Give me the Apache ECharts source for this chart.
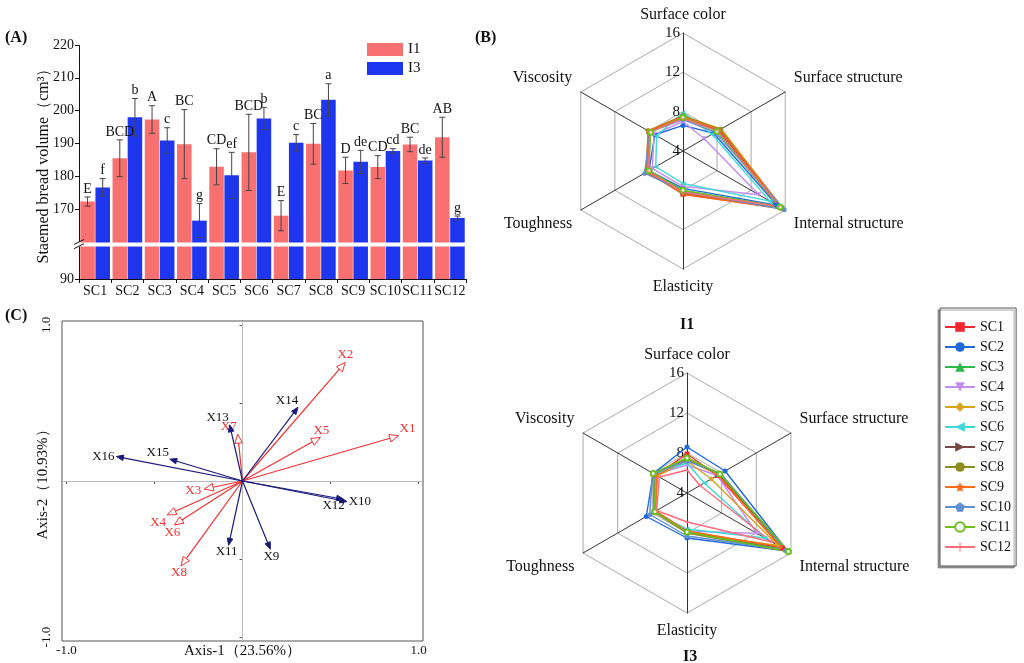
<!DOCTYPE html>
<html><head><meta charset="utf-8">
<script src="https://cdn.jsdelivr.net/npm/echarts@6/dist/echarts.min.js"></script>
<style>html,body{margin:0;padding:0;background:#fff}#c{width:1024px;height:663px}</style>
</head><body><div id="c"></div><script>
const FONT = '"Liberation Serif","Times New Roman",serif';

// ---- Panel A data ----
const categories = ['SC1','SC2','SC3','SC4','SC5','SC6','SC7','SC8','SC9','SC10','SC11','SC12'];
const volumeI1 = [172.3,185.5,197.3,189.8,182.9,187.3,168.0,189.9,181.8,182.8,189.7,191.9];
const errorI1  = [1.4,5.6,4.2,10.5,5.5,11.6,4.6,6.2,4.0,3.5,2.2,6.1];
const volumeI3 = [176.6,198.0,190.9,166.5,180.3,197.6,190.2,203.3,184.4,187.7,184.8,167.3];
const errorI3  = [2.7,5.7,3.9,5.2,7.0,3.4,2.5,4.9,3.5,0.7,0.8,0.6];
const lettersI1 = ['E','BCD','A','BC','CD','BCD','E','BC','D','CD','BC','AB'];
const lettersI3 = ['f','b','c','g','ef','b','c','a','de','cd','de','g'];
const yTickValues = [90,170,180,190,200,210,220];
const axisBreak = { start: 100, end: 160 };

// ---- Panel B data ----
const attributes = ['Surface color','Viscosity','Toughness','Elasticity','Internal structure','Surface structure'];
const samples = ['SC1','SC2','SC3','SC4','SC5','SC6','SC7','SC8','SC9','SC10','SC11','SC12'];
const scoresI1 = [
  [7.4,8.0,8.2,8.4,15.6,8.2],
  [6.6,7.3,8.0,7.8,15.0,7.6],
  [7.5,7.9,8.1,8.0,15.2,8.0],
  [7.0,7.4,7.6,7.6,12.9,6.5],
  [7.5,8.1,8.3,8.3,15.7,8.5],
  [7.9,7.1,7.2,7.3,14.2,7.4],
  [7.3,8.0,8.2,8.3,15.5,8.2],
  [7.6,8.1,8.3,8.2,15.6,8.4],
  [7.5,8.1,8.2,8.4,15.8,8.3],
  [7.2,7.9,8.5,8.1,15.9,7.8],
  [7.4,7.8,8.0,8.0,15.4,8.0],
  [7.3,7.9,8.1,8.2,15.3,8.1]
];
const scoresI3 = [
  [7.9,7.6,7.8,7.8,15.0,7.5],
  [8.6,7.9,8.7,8.5,15.6,8.4],
  [7.3,7.9,7.7,7.9,15.4,7.7],
  [6.8,7.7,7.6,7.8,12.1,7.5],
  [7.2,7.4,7.7,8.0,14.5,6.8],
  [7.0,7.8,7.8,7.6,13.0,6.0],
  [7.4,7.9,7.7,7.9,15.6,7.7],
  [7.5,7.9,7.8,8.0,15.7,7.8],
  [7.4,7.5,7.6,7.8,14.8,7.6],
  [7.2,8.0,8.3,8.3,15.4,7.9],
  [7.5,7.9,7.7,7.9,15.7,7.8],
  [6.3,7.2,7.5,6.9,13.8,5.5]
];

// ---- Panel C data ----
const vectorNames = ['X1','X2','X3','X4','X5','X6','X7','X8','X9','X10','X11','X12','X13','X14','X15','X16'];
const axis1 = [0.886,0.584,-0.217,-0.428,0.442,-0.387,-0.027,-0.349,0.158,0.593,-0.079,0.574,-0.073,0.315,-0.413,-0.716];
const axis2 = [0.290,0.760,-0.052,-0.217,0.279,-0.281,0.300,-0.544,-0.437,-0.132,-0.412,-0.117,0.360,0.472,0.140,0.157];
const vectorGroup = [0,0,0,0,0,0,0,0,1,1,1,1,1,1,1,1];

// ---- styles ----
const sampleColors = ['#F0282D','#1F6AD8','#2DB84B','#C58CF0','#D9A21B','#3FD6D6','#7A4646','#8E8E1E','#FF6A1A','#5E8ED4','#6CC01E','#FF6B7A'];
const STAR = 'path://M0,-10L2.9,-4L9.5,-3.1L4.7,1.5L5.9,8.1L0,5L-5.9,8.1L-4.7,1.5L-9.5,-3.1L-2.9,-4Z';
const PENT = 'path://M0,-10L9.5,-3.1L5.9,8.1L-5.9,8.1L-9.5,-3.1Z';
const PLUS = 'path://M-1,-10L1,-10L1,-1L10,-1L10,1L1,1L1,10L-1,10L-1,1L-10,1L-10,-1L-1,-1Z';
const sampleSymbols = ['rect','circle','triangle','triangle','diamond','triangle','triangle','circle',STAR,PENT,'emptyCircle',PLUS];
const sampleRotate = [0,0,0,180,0,90,-90,0,0,0,0,0];
const labelOffsets = [[9,-7],[0,-8],[-11,1],[-9,8],[1,-7],[-2,8],[-9,-8],[-2,7],[1,7],[13,0],[-2,6],[-10,6],[-12,-7],[-11,-7],[-12,-7],[-13,0]];
const nameShift = { 'Surface structure': 'u', 'Viscosity': 'u', 'Internal structure': 'd', 'Toughness': 'd' };

const RED = '#F87070', BLUE = '#1E36F0';
const BAR_GAP_CAT = 0.08, BAR_GAP = 0.04;
const GRID_A = { left: 79, top: 45, width: 387, height: 234 };

function errorRender(side, errs, letters) {
  return function (params, api) {
    const i = params.dataIndex;
    const band = api.size([1, 0])[0];
    const w = band * (1 - BAR_GAP_CAT) / (2 + BAR_GAP);
    const off = side * w * (1 + BAR_GAP) / 2;
    const c = api.coord([api.value(0), api.value(1)]);
    const hi = api.coord([api.value(0), api.value(1) + errs[i]]);
    const lo = api.coord([api.value(0), api.value(1) - errs[i]]);
    const x = c[0] + off;
    const cap = 3;
    return {
      type: 'group',
      children: [
        { type: 'line', shape: { x1: x, y1: hi[1], x2: x, y2: lo[1] }, style: { stroke: '#444', lineWidth: 1 } },
        { type: 'line', shape: { x1: x - cap, y1: hi[1], x2: x + cap, y2: hi[1] }, style: { stroke: '#444', lineWidth: 1 } },
        { type: 'line', shape: { x1: x - cap, y1: lo[1], x2: x + cap, y2: lo[1] }, style: { stroke: '#444', lineWidth: 1 } },
        { type: 'text', x: x, y: hi[1] - 1, style: { text: letters[i], fill: '#111', font: '14px ' + FONT, align: 'center', verticalAlign: 'bottom' } }
      ]
    };
  };
}

function arrowRender(params, api) {
  const i = params.dataIndex;
  const p0 = api.coord([0, 0]);
  const p1 = api.coord([api.value(0), api.value(1)]);
  const dx = p1[0] - p0[0], dy = p1[1] - p0[1];
  const len = Math.hypot(dx, dy) || 1;
  const ux = dx / len, uy = dy / len, nx = -uy, ny = ux;
  const red = vectorGroup[i] === 0;
  const hl = red ? 9 : 7, hw = red ? 3.8 : 2.8;
  const color = red ? '#F03030' : '#1A1A7A';
  const bx = p1[0] - ux * hl, by = p1[1] - uy * hl;
  const off = labelOffsets[i];
  return {
    type: 'group',
    children: [
      { type: 'line', shape: { x1: p0[0], y1: p0[1], x2: red ? bx : p1[0] - ux * 3, y2: red ? by : p1[1] - uy * 3 }, style: { stroke: color, lineWidth: 1.2 } },
      { type: 'polygon', shape: { points: [[p1[0], p1[1]], [bx + nx * hw, by + ny * hw], [bx - nx * hw, by - ny * hw]] }, style: { fill: red ? '#fff' : color, stroke: color, lineWidth: 1 } },
      { type: 'text', x: p1[0] + off[0], y: p1[1] + off[1], style: { text: vectorNames[i], fill: red ? '#F03030' : '#111', font: '13px ' + FONT, align: 'center', verticalAlign: 'middle' } }
    ]
  };
}

function radarDef(center, radius) {
  return {
    center: center, radius: radius, startAngle: 90, shape: 'polygon', splitNumber: 3,
    nameGap: 10,
    axisName: {
      color: '#111', fontFamily: FONT, fontSize: 16,
      formatter: function (name) { const k = nameShift[name]; return k ? '{' + k + '|' + name + '}' : name; },
      rich: {
        u: { fontFamily: FONT, fontSize: 16, color: '#111', padding: [0, 0, 18, 0] },
        d: { fontFamily: FONT, fontSize: 16, color: '#111', padding: [18, 0, 0, 0] }
      }
    },
    indicator: attributes.map((a, k) => k === 0
      ? { name: a, min: 4, max: 16, axisLabel: { show: true, color: '#111', fontFamily: FONT, fontSize: 15, margin: 3 } }
      : { name: a, min: 4, max: 16 }),
    axisLine: { lineStyle: { color: '#333', width: 1 } },
    axisTick: { show: false },
    axisLabel: { show: false },
    splitLine: { lineStyle: { color: '#aaa', width: 1 } },
    splitArea: { show: false }
  };
}

function radarData(scores) {
  return scores.map((v, k) => ({
    name: samples[k], value: v,
    symbol: sampleSymbols[k], symbolRotate: sampleRotate[k], symbolSize: 5,
    lineStyle: { color: sampleColors[k], width: 1.4 },
    itemStyle: { color: sampleColors[k] }
  }));
}

const chart = echarts.init(document.getElementById('c'), null, { renderer: 'canvas' });
const titleStyle = { fontFamily: FONT, fontSize: 16, fontWeight: 'bold', color: '#111' };
const option = {
  animation: false,
  backgroundColor: '#fff',
  textStyle: { fontFamily: FONT },
  title: [
    { text: '(A)', left: 0, top: 25, textStyle: titleStyle },
    { text: '(B)', left: 470, top: 25, textStyle: titleStyle },
    { text: '(C)', left: 0, top: 303, textStyle: titleStyle },
    { text: 'I1', left: 675, top: 312, textStyle: titleStyle },
    { text: 'I3', left: 678, top: 644, textStyle: titleStyle }
  ],
  legend: [
    { data: ['I1', 'I3'], left: 362, top: 37, orient: 'vertical', icon: 'rect', itemWidth: 36, itemHeight: 13, itemGap: 4,
      textStyle: { fontFamily: FONT, fontSize: 15, color: '#111' } },
    { data: samples, left: 940, top: 308, orient: 'vertical', itemWidth: 30, itemHeight: 12, itemGap: 6,
      padding: [12, 5, 12, 4], borderColor: '#555', borderWidth: 1,
      shadowColor: 'rgba(0,0,0,0.35)', shadowBlur: 0, shadowOffsetX: -2, shadowOffsetY: 2, backgroundColor: '#fff',
      textStyle: { fontFamily: FONT, fontSize: 14, color: '#111' } }
  ],
  grid: [
    Object.assign({ outerBoundsMode: 'none' }, GRID_A),
    { left: 62, top: 321, width: 361, height: 320, show: true, borderColor: '#555', borderWidth: 1, outerBoundsMode: 'none' }
  ],
  radar: [radarDef([683, 151], 118), radarDef([687, 493], 120)],
  xAxis: [
    { gridIndex: 0, type: 'category', data: categories,
      axisLine: { lineStyle: { color: '#111' } }, axisTick: { show: true, lineStyle: { color: '#111' }, length: 4 },
      axisLabel: { interval: 0, color: '#111', fontFamily: FONT, fontSize: 14, margin: 5 } },
    { gridIndex: 1, type: 'value', min: -1.025, max: 1.025,
      axisLine: { lineStyle: { color: '#555' } },
      axisTick: { show: true, length: 3, customValues: [-1, -0.5, 0, 0.5, 1], lineStyle: { color: '#555' } },
      axisLabel: { customValues: [-1, 1], formatter: v => v.toFixed(1), color: '#111', fontFamily: FONT, fontSize: 13, margin: 3 },
      splitLine: { show: false },
      name: 'Axis-1（23.56%）', nameLocation: 'middle', nameGap: 3, nameMoveOverlap: false,
      nameTextStyle: { fontFamily: FONT, fontSize: 15, color: '#111' } }
  ],
  yAxis: [
    { gridIndex: 0, type: 'value', min: 90, max: 220, interval: 10,
      breaks: [{ start: axisBreak.start, end: axisBreak.end, gap: '1.8%' }],
      breakArea: { show: true, itemStyle: { color: '#fff', borderColor: '#fff', borderWidth: 0, opacity: 1 }, zigzagAmplitude: 0, expandOnClick: false },
      axisLine: { show: true, lineStyle: { color: '#111' } },
      axisTick: { show: true, length: 4, customValues: yTickValues, lineStyle: { color: '#111' } },
      axisLabel: { customValues: yTickValues, color: '#111', fontFamily: FONT, fontSize: 14, margin: 5 },
      splitLine: { show: false },
      name: 'Staemed bread volume（cm³）', nameLocation: 'middle', nameGap: 27, nameMoveOverlap: false,
      nameTextStyle: { fontFamily: FONT, fontSize: 16, color: '#111' } },
    { gridIndex: 1, type: 'value', min: -1.025, max: 1.025,
      axisLine: { lineStyle: { color: '#555' } },
      axisTick: { show: true, length: 3, customValues: [-1, -0.5, 0, 0.5, 1], lineStyle: { color: '#555' } },
      axisLabel: { customValues: [-1, 1], formatter: v => v.toFixed(1), rotate: 90, color: '#111', fontFamily: FONT, fontSize: 13, margin: 9 },
      splitLine: { show: false },
      name: 'Axis-2（10.93%）', nameLocation: 'middle', nameGap: 11, nameMoveOverlap: false,
      nameTextStyle: { fontFamily: FONT, fontSize: 15, color: '#111' } }
  ],
  series: [
    ...samples.map((s, k) => ({
      name: s, type: 'line', xAxisIndex: 0, yAxisIndex: 0, data: [],
      symbol: sampleSymbols[k], symbolRotate: sampleRotate[k], symbolSize: 8,
      lineStyle: { color: sampleColors[k], width: 1.5 }, itemStyle: { color: sampleColors[k] }
    })),
    { name: 'I1', type: 'bar', xAxisIndex: 0, yAxisIndex: 0, data: volumeI1, itemStyle: { color: RED },
      barCategoryGap: (BAR_GAP_CAT * 100) + '%', barGap: (BAR_GAP * 100) + '%' },
    { name: 'I3', type: 'bar', xAxisIndex: 0, yAxisIndex: 0, data: volumeI3, itemStyle: { color: BLUE },
      barCategoryGap: (BAR_GAP_CAT * 100) + '%', barGap: (BAR_GAP * 100) + '%' },
    { type: 'custom', xAxisIndex: 0, yAxisIndex: 0, z: 5, data: volumeI1.map((v, i) => [i, v]),
      renderItem: errorRender(-1, errorI1, lettersI1) },
    { type: 'custom', xAxisIndex: 0, yAxisIndex: 0, z: 5, data: volumeI3.map((v, i) => [i, v]),
      renderItem: errorRender(1, errorI3, lettersI3) },
    { type: 'radar', radarIndex: 0, data: radarData(scoresI1) },
    { type: 'radar', radarIndex: 1, data: radarData(scoresI3) },
    { type: 'custom', xAxisIndex: 1, yAxisIndex: 1, z: 5,
      data: axis1.map((x, i) => [x, axis2[i]]),
      renderItem: arrowRender,
      markLine: { silent: true, symbol: ['none', 'none'], label: { show: false },
        lineStyle: { color: '#bbb', type: 'solid', width: 1 },
        data: [{ xAxis: 0 }, { yAxis: 0 }] } }
  ]
};
chart.setOption(option);

// axis-break marks on the y axis of panel A, placed through the axis scale
const yHi = chart.convertToPixel({ yAxisIndex: 0 }, axisBreak.end);
const yLo = chart.convertToPixel({ yAxisIndex: 0 }, axisBreak.start);
const ax = GRID_A.left;
chart.setOption({
  graphic: [
    { type: 'rect', shape: { x: ax - 1.5, y: Math.min(yHi, yLo), width: 3, height: Math.abs(yLo - yHi) }, style: { fill: '#fff' }, z: 200 },
    { type: 'line', shape: { x1: ax - 5, y1: yHi + 2.5, x2: ax + 5, y2: yHi - 2.5 }, style: { stroke: '#111', lineWidth: 1 }, z: 201 },
    { type: 'line', shape: { x1: ax - 5, y1: yLo + 2.5, x2: ax + 5, y2: yLo - 2.5 }, style: { stroke: '#111', lineWidth: 1 }, z: 201 }
  ]
});
</script></body></html>
